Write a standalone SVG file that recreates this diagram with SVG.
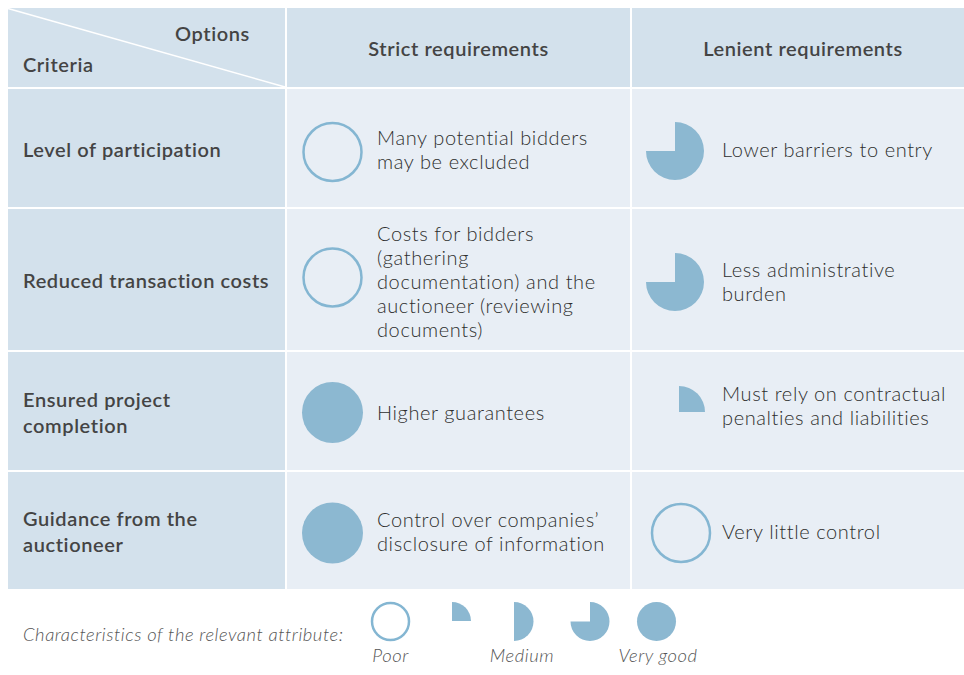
<svg xmlns="http://www.w3.org/2000/svg" width="964" height="675" viewBox="0 0 964 675">
<style>
.hd{fill:#d3e1ec}
.cell{fill:#e8eef5}
.h{font-family:Lato,"Liberation Sans",sans-serif;font-weight:600;font-size:20px;letter-spacing:0.6px;fill:#444}
.t{font-family:Lato,"Liberation Sans",sans-serif;font-weight:300;font-size:20px;letter-spacing:0.6px;fill:#2e2e2e}
.lg{font-family:Lato,"Liberation Sans",sans-serif;font-weight:300;font-style:italic;font-size:18.4px;letter-spacing:0.55px;fill:#555}
.ring{fill:none;stroke:#84b6d2;stroke-width:2.5}
.pie{fill:#8cb8d1}
</style>
<rect width="964" height="675" fill="#fff"/>
<g id="header">
<rect class="hd" x="8" y="8" width="277" height="79"/>
<rect class="hd" x="287" y="8" width="343" height="79"/>
<rect class="hd" x="632" y="8" width="332" height="79"/>
<line x1="8" y1="8.5" x2="285" y2="87" stroke="#fff" stroke-width="1.5"/>
<text class="h" x="175" y="41">Options</text>
<text class="h" x="23" y="72">Criteria</text>
<text class="h" x="458.5" y="56" text-anchor="middle">Strict requirements</text>
<text class="h" x="803" y="56" text-anchor="middle">Lenient requirements</text>
</g>
<g id="row1">
<rect class="hd" x="8" y="89" width="277" height="118"/>
<rect class="cell" x="287" y="89" width="343" height="118"/>
<rect class="cell" x="632" y="89" width="332" height="118"/>
<text class="h" x="23" y="157">Level of participation</text>
<circle class="ring" cx="332.5" cy="152" r="29"/>
<text class="t" x="377" y="145">Many potential bidders</text>
<text class="t" x="377" y="169">may be excluded</text>
<path class="pie" d="M675,151 L675,122 A29,29 0 1 1 646,151 Z"/>
<text class="t" x="722" y="157">Lower barriers to entry</text>
</g>
<g id="row2">
<rect class="hd" x="8" y="209" width="277" height="141"/>
<rect class="cell" x="287" y="209" width="343" height="141"/>
<rect class="cell" x="632" y="209" width="332" height="141"/>
<text class="h" x="23" y="288">Reduced transaction costs</text>
<circle class="ring" cx="332.5" cy="277.5" r="29"/>
<text class="t" x="377" y="241">Costs for bidders</text>
<text class="t" x="377" y="265">(gathering</text>
<text class="t" x="377" y="289">documentation) and the</text>
<text class="t" x="377" y="313">auctioneer (reviewing</text>
<text class="t" x="377" y="337">documents)</text>
<path class="pie" d="M675,282 L675,253 A29,29 0 1 1 646,282 Z"/>
<text class="t" x="722" y="277">Less administrative</text>
<text class="t" x="722" y="301">burden</text>
</g>
<g id="row3">
<rect class="hd" x="8" y="352" width="277" height="118"/>
<rect class="cell" x="287" y="352" width="343" height="118"/>
<rect class="cell" x="632" y="352" width="332" height="118"/>
<text class="h" x="23" y="407">Ensured project</text>
<text class="h" x="23" y="433">completion</text>
<circle class="pie" cx="332.5" cy="412.5" r="30.5"/>
<text class="t" x="377" y="420">Higher guarantees</text>
<path class="pie" d="M679,412 L679,386 A26,26 0 0 1 705,412 Z"/>
<text class="t" x="722" y="401">Must rely on contractual</text>
<text class="t" x="722" y="425">penalties and liabilities</text>
</g>
<g id="row4">
<rect class="hd" x="8" y="472" width="277" height="117"/>
<rect class="cell" x="287" y="472" width="343" height="117"/>
<rect class="cell" x="632" y="472" width="332" height="117"/>
<text class="h" x="23" y="526">Guidance from the</text>
<text class="h" x="23" y="552">auctioneer</text>
<circle class="pie" cx="332.5" cy="533" r="30.5"/>
<text class="t" x="377" y="527">Control over companies’</text>
<text class="t" x="377" y="551">disclosure of information</text>
<circle class="ring" cx="681" cy="533" r="29"/>
<text class="t" x="722" y="539">Very little control</text>
</g>
<g id="legend">
<text class="lg" x="23" y="641">Characteristics of the relevant attribute:</text>
<circle class="ring" cx="390.5" cy="621.5" r="18.5" stroke-width="2"/>
<path class="pie" d="M452,621 L452,602 A19,19 0 0 1 471,621 Z"/>
<path class="pie" d="M514,602 A19.5,19.5 0 0 1 514,641 Z"/>
<path class="pie" d="M590,621.5 L590,602 A19.5,19.5 0 1 1 570.5,621.5 Z"/>
<circle class="pie" cx="656.5" cy="621.5" r="19.5"/>
<text class="lg" x="390.5" y="662" text-anchor="middle">Poor</text>
<text class="lg" x="522" y="662" text-anchor="middle">Medium</text>
<text class="lg" x="658" y="662" text-anchor="middle">Very good</text>
</g>
</svg>
